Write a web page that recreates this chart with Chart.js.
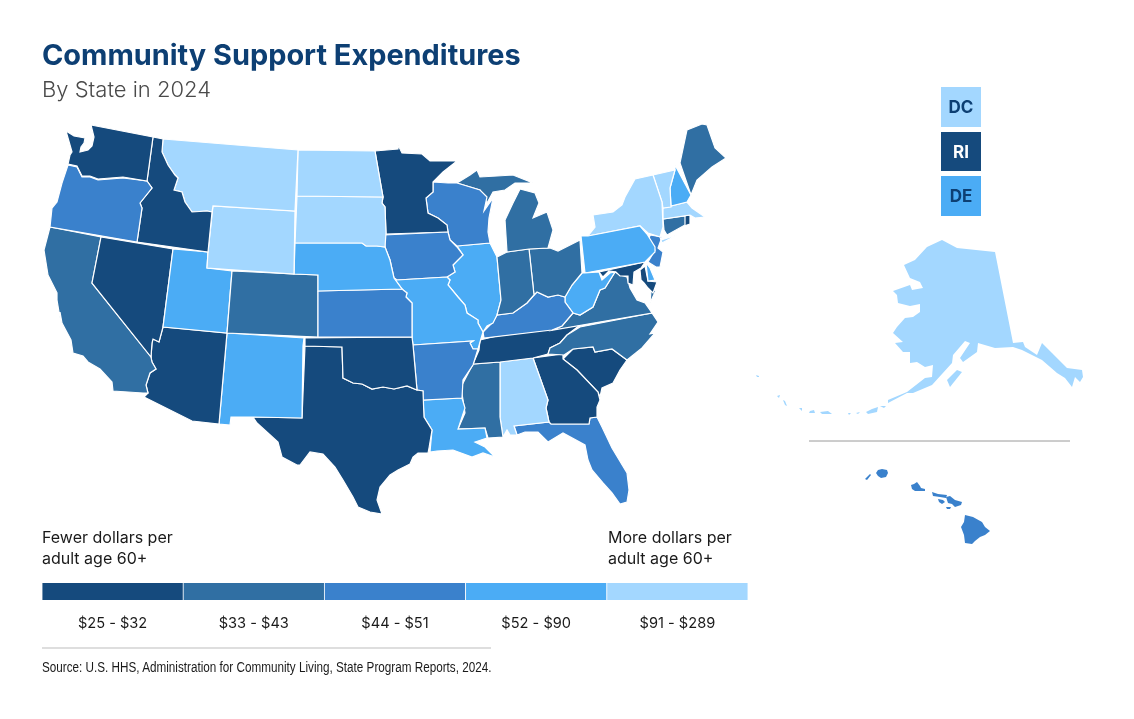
<!DOCTYPE html>
<html>
<head>
<meta charset="utf-8">
<title>Community Support Expenditures</title>
<script src="https://cdn.jsdelivr.net/npm/chart.js@4"></script>
<style>
  html, body { margin: 0; padding: 0; background: #fff; }
  body { width: 1134px; height: 719px; position: relative; overflow: hidden; font-family: Inter, sans-serif; }
  canvas { position: absolute; }
  #mapChart { left: 0; top: 0; }
  #legendChart { left: 42px; top: 583px; }
  .txt { position: absolute; white-space: nowrap; }
  #title { left: 42px; top: 37px; font-size: 28.9px; font-weight: 700; color: #0d3f73; }
  #subtitle { left: 42px; top: 76px; font-size: 22px; font-weight: 300; color: #4a4a4a; }
  .note { font-size: 16px; line-height: 20.5px; color: #1a1a1a; font-weight: 400; }
  #fewer { left: 42px; top: 527px; }
  #more { left: 608px; top: 527px; }
  #source { left: 42px; top: 659px; font-family: "Liberation Sans", sans-serif; font-size: 14px; color: #1a1a1a; transform: scaleX(0.836); transform-origin: left top; }
  .tag { position: absolute; left: 941px; width: 40px; height: 40px; line-height: 40px; text-align: center; font-size: 17px; font-weight: 700; }
</style>
</head>
<body>
<canvas id="mapChart" width="1134" height="719"></canvas>
<canvas id="legendChart" width="706" height="50"></canvas>

<div class="txt" id="title">Community Support Expenditures</div>
<div class="txt" id="subtitle">By State in 2024</div>
<div class="txt note" id="fewer">Fewer dollars per<br>adult age 60+</div>
<div class="txt note" id="more">More dollars per<br>adult age 60+</div>
<div class="txt" id="source">Source: U.S. HHS, Administration for Community Living, State Program Reports, 2024.</div>
<div class="tag" style="top:87px;color:#0d3f73">DC</div>
<div class="tag" style="top:132px;color:#fff">RI</div>
<div class="tag" style="top:176px;color:#0d3f73">DE</div>

<script>
/* ---- Legend ---- */
const tierLabels = ['$25 - $32', '$33 - $43', '$44 - $51', '$52 - $90', '$91 - $289'];
const tierColors = ['#154a7d', '#306fa3', '#3a81cc', '#4bacf5', '#a3d7ff'];
const tierWidths = [1, 1, 1, 1, 1];

/* ---- Tier of each state (index into tierLabels) ---- */
const tier1 = ['WA', 'ID', 'NV', 'AZ', 'TX', 'OK', 'MN', 'TN', 'GA', 'SC', 'MD', 'RI'];
const tier2 = ['CA', 'CO', 'ME', 'MI', 'IN', 'OH', 'VA', 'NC', 'MS', 'CT'];
const tier3 = ['OR', 'KS', 'IA', 'WI', 'AR', 'KY', 'FL', 'NJ', 'HI'];
const tier4 = ['UT', 'NM', 'NE', 'MO', 'IL', 'LA', 'PA', 'WV', 'NH', 'DE'];
const tier5 = ['MT', 'WY', 'ND', 'SD', 'NY', 'VT', 'MA', 'AL', 'AK', 'DC'];
const tiers = [tier1, tier2, tier3, tier4, tier5];

/* ---- State outlines, in map units ---- */
const WA = [[[91,125],[153,137],[147,181],[123,177],[98,179],[90,176],[82,176],[79,170],[77,166],[68,164],[70,155],[72,152],[66,131],[74,136],[85,138],[84,143],[81,147],[80,152],[88,150],[92,146],[94,137]]];
const OR = [[[68,165],[77,167],[79,171],[82,177],[90,177],[98,180],[123,178],[147,181],[152,188],[140,203],[142,208],[137,242],[50,227],[52,208],[57,202],[62,183]]];
const ID = [[[153,137],[163,139],[162,152],[168,165],[175,175],[178,178],[174,190],[182,192],[185,202],[192,212],[207,211],[212,212],[208,252],[137,242],[142,208],[140,203],[152,188],[147,181]]];
const MT = [[[163,139],[298,150],[295,211],[213,206],[212,212],[207,211],[192,212],[185,202],[182,192],[174,190],[178,178],[175,175],[168,165],[162,152]]];
const WY = [[[213,206],[295,211],[294,274],[207,268],[208,252]]];
const ND = [[[298,150],[375,151],[380,180],[383,197],[297,196]]];
const SD = [[[297,196],[383,197],[382,203],[385,207],[386,233],[385,247],[377,246],[366,246],[362,243],[295,243]]];
const NE = [[[295,243],[362,243],[366,246],[377,246],[385,247],[390,260],[394,278],[402,289],[318,291],[318,275],[294,274]]];
const KS = [[[318,291],[402,289],[407,293],[406,297],[412,303],[412,337],[318,337]]];
const CO = [[[232,271],[294,274],[318,275],[318,337],[227,333]]];
const UT = [[[173,249],[208,252],[207,268],[232,271],[227,333],[163,327]]];
const NV = [[[101,237],[173,249],[163,327],[159,342],[153,339],[152,343],[151,357],[92,283]]];
const CA = [[[50,227],[101,237],[92,283],[151,357],[152,362],[156,369],[150,373],[146,385],[148,393],[143,393],[113,391],[112,382],[100,369],[88,362],[83,356],[73,353],[71,340],[62,323],[60,312],[60,318],[57,300],[57,293],[48,275],[44,250]]];
const AZ = [[[163,327],[227,333],[219,424],[192,421],[144,397],[148,393],[146,385],[150,373],[156,369],[152,362],[151,357],[152,343],[153,339],[159,342]]];
const NM = [[[227,333],[304,338],[303,346],[302,418],[253,417],[231,417],[230,425],[219,424]]];
const OK = [[[305,338],[412,337],[413,345],[417,390],[407,386],[394,389],[383,387],[372,389],[362,384],[353,383],[343,378],[342,347],[305,346]]];
const TX = [[[305,346],[342,347],[343,378],[353,383],[362,384],[372,389],[383,387],[394,389],[407,386],[417,390],[423,391],[424,417],[432,430],[429,448],[428,453],[418,453],[413,457],[410,464],[398,470],[390,475],[380,487],[377,500],[382,514],[370,512],[358,507],[353,497],[343,480],[335,467],[323,454],[310,452],[300,465],[297,465],[282,457],[278,442],[268,433],[257,423],[253,417],[302,418]]];
const AR = [[[413,345],[473,341],[470,343],[473,349],[478,349],[473,365],[463,380],[462,398],[423,400],[423,391],[417,390]]];
const LA = [[[423,400],[462,398],[465,408],[458,429],[485,428],[487,438],[475,442],[485,447],[495,457],[483,453],[472,457],[453,450],[437,451],[430,452],[432,430],[424,417]]];
const MO = [[[397,280],[447,277],[450,280],[448,285],[458,297],[465,305],[467,313],[478,320],[478,323],[483,332],[480,342],[478,349],[473,349],[470,343],[473,341],[413,345],[412,337],[412,303],[406,297],[407,293],[402,289],[394,278]]];
const IA = [[[384,235],[448,232],[450,240],[457,247],[463,255],[453,265],[455,272],[447,277],[397,280],[394,278],[390,260],[385,247]]];
const MN = [[[375,151],[398,149],[398,145],[402,153],[422,154],[430,161],[457,161],[443,172],[433,182],[433,192],[426,198],[428,213],[438,218],[447,225],[448,232],[386,234],[385,207],[382,203],[383,197],[380,180]]];
const WI = [[[433,182],[448,183],[457,183],[480,190],[487,197],[484,211],[493,198],[489,218],[488,232],[490,243],[457,246],[450,240],[448,232],[447,225],[438,218],[428,213],[426,198],[433,192]]];
const MI = [
  [[457,183],[470,175],[477,170],[480,177],[497,176],[513,175],[533,183],[515,183],[505,190],[493,192],[487,203],[480,190]],
  [[507,252],[505,220],[513,203],[520,189],[535,193],[539,203],[533,218],[547,212],[553,230],[548,248],[529,249]]
];
const IN = [[[497,257],[507,252],[529,249],[534,295],[527,303],[513,313],[497,315],[501,300]]];
const IL = [[[457,246],[490,243],[497,257],[501,300],[497,315],[493,323],[487,326],[483,332],[478,323],[478,320],[467,313],[465,305],[458,297],[448,285],[450,280],[447,277],[455,272],[453,265],[463,255]]];
const OH = [[[529,249],[550,248],[558,251],[580,240],[582,273],[572,285],[565,297],[558,295],[548,297],[537,292],[534,295]]];
const KY = [[[483,332],[492,323],[497,315],[513,313],[527,303],[534,295],[537,292],[548,297],[558,295],[565,297],[565,302],[573,313],[562,326],[552,330],[484,338]]];
const WV = [[[582,273],[585,273],[599,272],[602,280],[610,273],[615,272],[605,288],[600,290],[593,307],[580,315],[573,313],[565,302],[565,297],[572,285]]];
const PA = [[[581,236],[588,236],[640,226],[647,234],[655,247],[655,252],[645,262],[585,273]]];
const NY = [[[588,236],[595,227],[593,215],[613,212],[622,205],[625,197],[635,179],[653,175],[662,202],[663,227],[660,237],[661,240],[677,235],[662,243],[660,237],[648,233],[640,226]]];
const VT = [[[653,175],[675,170],[670,188],[671,207],[663,208],[662,202]]];
const NH = [[[675,165],[691,195],[687,202],[671,206],[670,188],[675,170]]];
const ME = [[[680,163],[687,130],[702,124],[707,125],[715,148],[726,158],[712,167],[697,180],[691,195]]];
const MA = [[[663,208],[687,202],[692,208],[705,217],[695,218],[690,215],[663,219]]];
const CT = [[[663,219],[685,216],[685,225],[667,235],[664,230]]];
const RI = [[[684,216],[690,215],[690,224],[684,226]]];
const NJ = [[[650,235],[662,237],[658,248],[663,252],[660,267],[656,267],[648,262],[655,250],[648,243]]];
const DE = [[[646,263],[650,268],[655,280],[648,281]]];
const MD = [
  [[599,272],[645,262],[641,268],[634,272],[633,285],[628,283],[628,276],[620,276],[616,272],[609,271],[603,277]],
  [[640,270],[645,266],[648,281],[657,282],[653,293],[648,288],[644,283],[641,280]]
];
const VA = [
  [[573,313],[580,315],[593,307],[600,290],[605,288],[615,272],[620,275],[627,277],[630,288],[637,300],[645,303],[652,313],[553,330],[562,326]],
  [[651,291],[656,290],[650,303]]
];
const NC = [[[580,327],[652,313],[658,322],[650,334],[655,333],[642,348],[627,360],[612,349],[595,352],[593,347],[573,349],[564,355],[548,354],[550,348],[560,343],[567,335]]];
const TN = [[[480,340],[497,336],[553,329],[580,325],[567,335],[560,343],[550,348],[548,354],[533,358],[500,362],[473,364],[479,350]]];
const MS = [[[473,364],[500,362],[500,417],[503,437],[488,438],[485,428],[458,429],[465,413],[461,387]]];
const AL = [[[500,362],[533,358],[548,400],[546,408],[549,422],[514,426],[517,435],[510,435],[507,430],[503,437],[500,417]]];
const GA = [[[533,358],[563,354],[563,359],[577,370],[598,392],[600,400],[597,407],[597,417],[590,418],[589,424],[551,424],[549,422],[546,408],[548,400]]];
const SC = [[[563,359],[573,349],[593,347],[595,352],[612,349],[627,360],[620,370],[613,383],[602,388],[600,397],[598,392],[577,370]]];
const FL = [[[514,426],[549,422],[551,424],[589,424],[590,418],[597,417],[602,427],[612,448],[627,473],[629,490],[627,502],[620,504],[612,493],[603,483],[592,470],[588,460],[585,445],[563,433],[548,442],[538,432],[525,432],[517,435]]];
const AK = [
  [[942,240],[957,248],[995,252],[1013,343],[1023,342],[1025,347],[1037,355],[1042,343],[1052,353],[1067,368],[1082,370],[1083,377],[1080,382],[1075,377],[1072,387],[1065,378],[1057,373],[1042,360],[1022,350],[1013,347],[995,348],[978,343],[977,352],[963,362],[960,358],[970,343],[965,341],[953,355],[952,363],[932,385],[913,393],[907,393],[888,403],[888,400],[907,392],[925,378],[932,377],[933,365],[925,367],[917,362],[910,363],[910,352],[903,352],[895,343],[903,342],[893,333],[897,327],[905,318],[913,317],[920,312],[920,304],[910,306],[898,303],[897,295],[893,291],[910,285],[912,290],[923,288],[920,282],[910,278],[904,265],[915,260],[927,247]],
  [[947,380],[957,370],[962,372],[950,387]],
  [[866,412],[872,409],[878,407],[877,412],[868,414]],
  [[880,406],[886,406],[884,408]],
  [[820,412],[828,411],[832,414],[822,414]],
  [[810,411],[814,410],[815,413],[809,413]],
  [[799,408],[802,408],[802,411]],
  [[777,396],[780,395],[779,398]],
  [[783,400],[785,401],[787,406],[785,405]],
  [[756,375],[759,376],[759,377],[757,377]],
  [[848,413],[851,413],[849,415]],
  [[856,413],[860,412],[858,414]]
];
const HI = [
  [[965,515],[973,517],[982,522],[985,527],[990,531],[985,535],[980,537],[975,541],[972,544],[965,543],[964,535],[961,527],[964,522]],
  [[946,497],[950,496],[955,500],[962,502],[961,505],[955,507],[952,504],[948,503]],
  [[932,492],[938,494],[947,495],[946,498],[940,497],[933,496]],
  [[938,499],[943,500],[945,502],[942,504],[939,502]],
  [[946,507],[951,507],[950,509],[947,509]],
  [[911,485],[914,484],[917,482],[920,486],[921,488],[925,489],[925,491],[920,491],[915,491],[912,489]],
  [[876,473],[878,470],[882,469],[887,470],[888,473],[886,477],[881,478],[878,476]],
  [[865,479],[870,474],[871,475],[867,480]]
];
/* the three small ones get their own squares top right */
const DC = [[[941,87],[981,87],[981,127],[941,127]]];
const swatchRI = [[941,132],[981,132],[981,171],[941,171]];
const swatchDE = [[941,176],[981,176],[981,216],[941,216]];

const outlines = { WA, OR, ID, MT, WY, ND, SD, NE, KS, CO, UT, NV, CA, AZ, NM, OK, TX, AR, LA, MO, IA, MN, WI, MI, IN, IL, OH, KY, WV, PA, NY, VT, NH, ME, MA, CT, RI, NJ, DE, MD, VA, NC, TN, MS, AL, GA, SC, FL, AK, HI, DC };

/* Thin divider rules */
const ruleInset  = [[809, 441], [1070, 441]];
const ruleSource = [[42, 648], [491, 648]];

/* ---- Helpers ---- */
function tierOf(code) {
  return tiers.findIndex(t => t.includes(code));
}

function polygon(points, color, borderWidth) {
  const data = [...points, points[0]].map(p => ({ x: p[0], y: p[1] }));
  return {
    data,
    showLine: true,
    fill: 'shape',
    backgroundColor: color,
    borderColor: '#fff',
    borderWidth,
    pointRadius: 0,
    tension: 0,
  };
}

function rule(points, color) {
  return {
    data: points.map(p => ({ x: p[0], y: p[1] })),
    showLine: true,
    fill: false,
    borderColor: color,
    borderWidth: 1,
    pointRadius: 0,
  };
}

/* ---- Map ---- */
const datasets = [];
Object.keys(outlines).forEach(code => {
  const color = tierColors[tierOf(code)];
  const noEdge = code === 'AK' || code === 'HI' || code === 'DC';
  outlines[code].forEach(poly => datasets.push(polygon(poly, color, noEdge ? 0 : 1.2)));
});
datasets.push(polygon(swatchRI, tierColors[tierOf('RI')], 0));
datasets.push(polygon(swatchDE, tierColors[tierOf('DE')], 0));
datasets.push(rule(ruleInset, '#9a9a9a'));
datasets.push(rule(ruleSource, '#bdbdbd'));

new Chart(document.getElementById('mapChart'), {
  type: 'scatter',
  data: { datasets },
  options: {
    responsive: false,
    animation: false,
    events: [],
    layout: { padding: 0 },
    plugins: { legend: { display: false }, tooltip: { enabled: false } },
    scales: {
      x: { type: 'linear', min: 0, max: 1134, display: false },
      y: { type: 'linear', min: 0, max: 719, reverse: true, display: false },
    },
  },
});

/* ---- Colour key ---- */
new Chart(document.getElementById('legendChart'), {
  type: 'bar',
  data: {
    labels: tierLabels,
    datasets: [{
      data: tierWidths,
      backgroundColor: tierColors,
      borderColor: '#fff',
      borderWidth: { left: 0.75, right: 0.75, top: 0, bottom: 0 },
      barPercentage: 1,
      categoryPercentage: 1,
    }],
  },
  options: {
    responsive: false,
    animation: false,
    events: [],
    layout: { padding: 0 },
    plugins: { legend: { display: false }, tooltip: { enabled: false } },
    scales: {
      x: {
        grid: { display: false },
        border: { display: false },
        ticks: { color: '#1a1a1a', font: { family: 'Inter', size: 14.6 }, padding: 7, maxRotation: 0 },
        afterFit: scale => { scale.height = 33; },
      },
      y: { min: 0, max: 1, display: false },
    },
  },
});
</script>
</body>
</html>
